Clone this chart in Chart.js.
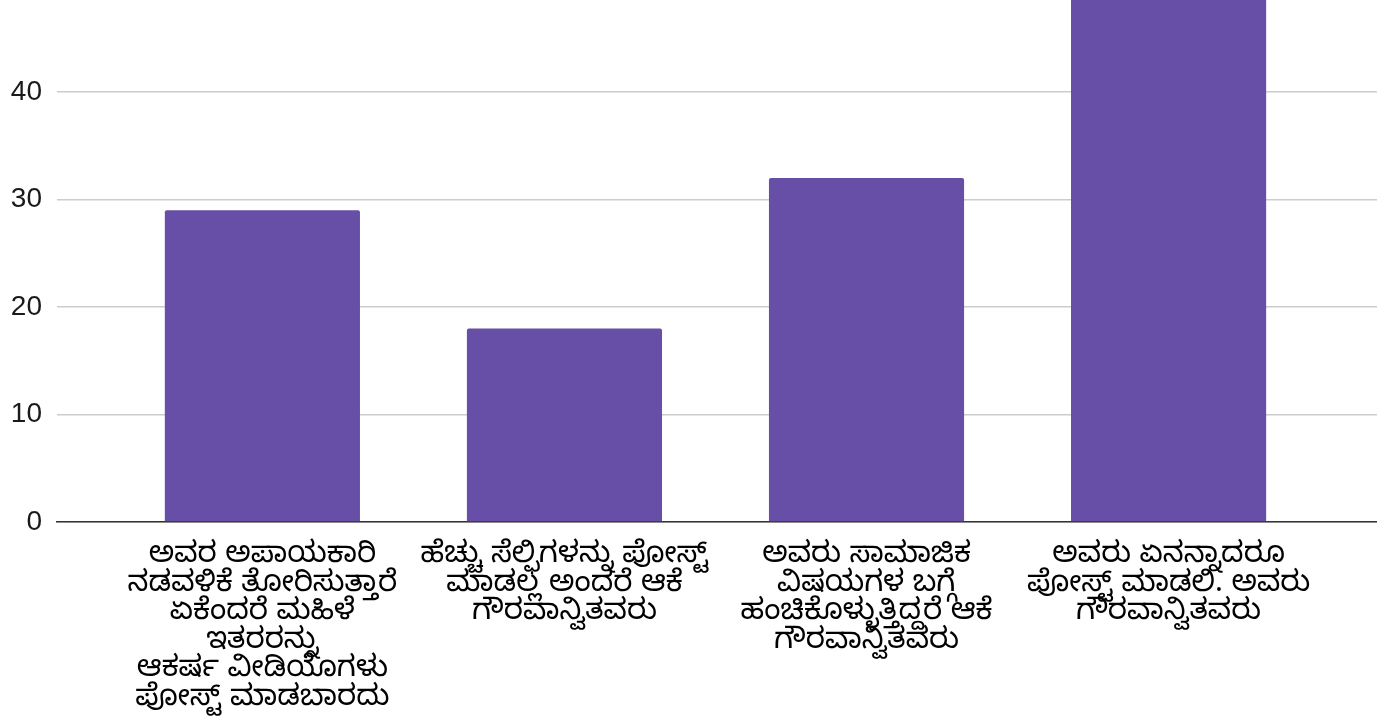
<!DOCTYPE html>
<html>
<head>
<meta charset="utf-8">
<script src="https://cdn.jsdelivr.net/npm/chart.js@4"></script>
<style>
  html, body { margin: 0; padding: 0; background: #fff; }
  #wrap { width: 1377px; height: 721px; }
</style>
</head>
<body>
<div id="wrap"><canvas id="myChart"></canvas></div>
<script>
// categories, one array of lines per bar
const categories = [
  ['ಅವರ ಅಪಾಯಕಾರಿ', 'ನಡವಳಿಕೆ ತೋರಿಸುತ್ತಾರೆ', 'ಏಕೆಂದರೆ ಮಹಿಳೆ', 'ಇತರರನ್ನು', 'ಆಕರ್ಷ ವೀಡಿಯೊಗಳು', 'ಪೋಸ್ಟ್ ಮಾಡಬಾರದು'],
  ['ಹೆಚ್ಚು ಸೆಲ್ಫಿಗಳನ್ನು ಪೋಸ್ಟ್', 'ಮಾಡಲ್ಲ ಅಂದರೆ ಆಕೆ', 'ಗೌರವಾನ್ವಿತವರು'],
  ['ಅವರು ಸಾಮಾಜಿಕ', 'ವಿಷಯಗಳ ಬಗ್ಗೆ', 'ಹಂಚಿಕೊಳ್ಳುತ್ತಿದ್ದರೆ ಆಕೆ', 'ಗೌರವಾನ್ವಿತವರು'],
  ['ಅವರು ಏನನ್ನಾದರೂ', 'ಪೋಸ್ಟ್ ಮಾಡಲಿ. ಅವರು', 'ಗೌರವಾನ್ವಿತವರು']
];
const values = [29, 18, 32, 50];
const yTicks = [0, 10, 20, 30, 40];

let ctx = document.getElementById('myChart').getContext('2d');

let chart = new Chart(ctx, {
  type: 'bar',
  data: {
    datasets: [{
      data: values.map((v, i) => ({ x: i, y: v })),
      backgroundColor: '#674ea7',
      borderWidth: 0,
      borderRadius: 2,
      clip: false, // top bar runs off the top like in the screenshot
      categoryPercentage: 1,
      barPercentage: 0.646
    }]
  },
  options: {
    responsive: true,
    maintainAspectRatio: false,
    animation: false,
    layout: { padding: 0 },
    plugins: {
      legend: { display: false },
      tooltip: { enabled: false }
    },
    scales: {
      x: {
        type: 'linear',
        offset: false,
        min: -0.68,
        max: 3.69,
        afterBuildTicks: s => { s.ticks = categories.map((c, i) => ({ value: i })); },
        afterFit: s => { s.height = 199; },
        grid: { display: false },
        border: { display: true, color: '#333', width: 1.5 },
        ticks: {
          autoSkip: false,
          maxRotation: 0,
          padding: 15,
          color: '#000',
          font: { family: '"Noto Sans Kannada", "Noto Sans", sans-serif', size: 29.5, lineHeight: 0.965 },
          callback: v => categories[v]
        }
      },
      y: {
        min: 0,
        max: 45.6,
        afterBuildTicks: s => { s.ticks = yTicks.map(v => ({ value: v })); },
        afterFit: s => { s.width = 57; },
        grid: { color: '#cccccc', lineWidth: 1.5, drawTicks: false },
        border: { display: false },
        ticks: {
          padding: 15,
          color: '#1a1a1a',
          font: { family: 'Arial, "Liberation Sans", sans-serif', size: 28 }
        }
      }
    }
  }
});
</script>
</body>
</html>
